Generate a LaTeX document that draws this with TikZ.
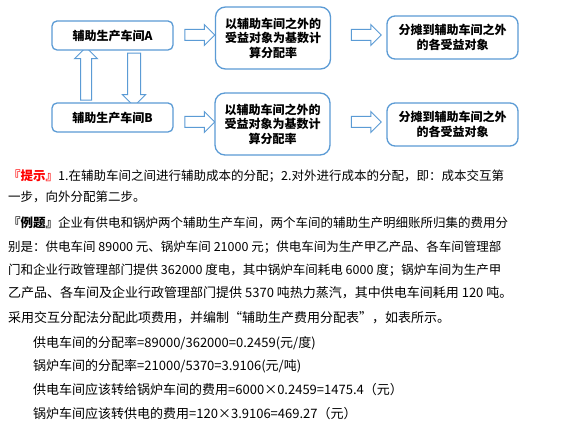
\documentclass[tikz,border=0pt]{standalone}
\usepackage{fontspec}
\newfontfamily\cjk{Noto Sans CJK SC}
\usepackage{xcolor}
\usetikzlibrary{shapes.arrows}
\definecolor{boxblue}{HTML}{5B9BD5}
\definecolor{hintred}{HTML}{FF0000}
\XeTeXlinebreaklocale "zh"
\XeTeXlinebreakskip=0pt plus 1pt minus 0.3pt
\tikzset{
  wsbox/.style={draw=boxblue,fill=white,line width=1.3pt,rounded corners=5pt,
    minimum width=121pt,minimum height=29pt,inner sep=0pt,font=\cjk\bfseries\fontsize{12}{14}\selectfont},
  ratebox/.style={wsbox,rounded corners=10pt,minimum width=115pt,minimum height=62pt,
    align=center,font=\cjk\bfseries\fontsize{12}{14.5}\selectfont},
  sharebox/.style={ratebox,rounded corners=8pt,minimum width=131pt,minimum height=43pt},
  blockarr/.style={single arrow,draw=boxblue,fill=white,line width=1pt,inner xsep=0pt,
    inner ysep=5pt,single arrow head extend=5pt,single arrow tip angle=90,minimum height=30pt},
  txtline/.style={anchor=base west,inner sep=0pt,font=\cjk\fontsize{12.5}{13}\selectfont},
  fullline/.style={txtline,text width=502pt,align=justify},
  calcline/.style={txtline,font=\cjk\fontsize{13}{13}\selectfont},
}

\begin{document}
\begin{tikzpicture}[x=1pt,y=-1pt]
  \useasboundingbox[fill=white] (0,0) rectangle (579,430);
  % block arrows
  \node[blockarr] (arA1) at (197,35) {};
  \node[blockarr] (arA2) at (363.5,35) {};
  \node[blockarr] (arB1) at (197,122) {};
  \node[blockarr] (arB2) at (363.5,122) {};
  \node[blockarr,rotate=90,minimum height=53pt,single arrow head extend=6pt] (arUp) at (86,76.5) {};
  \node[blockarr,rotate=-90,minimum height=53pt,inner ysep=6pt] (arDown) at (134,76.5) {};
  % boxes
  \node[wsbox] (wsA) at (112.5,35.5) {辅助生产车间A};
  \node[wsbox] (wsB) at (112.5,117.5) {辅助生产车间B};
  \node[ratebox] (rateA) at (273,38) {以辅助车间之外的\\受益对象为基数计\\算分配率};
  \node[ratebox] (rateB) at (272.5,124) {以辅助车间之外的\\受益对象为基数计\\算分配率};
  \node[sharebox] (shareA) at (452.5,37.5) {分摊到辅助车间之外\\的各受益对象};
  \node[sharebox] (shareB) at (452.5,124.5) {分摊到辅助车间之外\\的各受益对象};
  % text
  \node[fullline] (t1) at (8,181) {\parfillskip=0pt{\color{hintred}\bfseries『提示』}1.在辅助车间之间进行辅助成本的分配；2.对外进行成本的分配，即：成本交互第};
  \node[txtline] (t2) at (8,202) {一步，向外分配第二步。};
  \node[fullline] (t3) at (8,228) {\parfillskip=0pt{\bfseries『例题』}企业有供电和锅炉两个辅助生产车间，两个车间的辅助生产明细账所归集的费用分};
  \node[fullline] (t4) at (8,252) {\parfillskip=0pt别是：供电车间 89000 元、锅炉车间 21000 元；供电车间为生产甲乙产品、各车间管理部};
  \node[fullline] (t5) at (8,275) {\parfillskip=0pt门和企业行政管理部门提供 362000 度电，其中锅炉车间耗电 6000 度；锅炉车间为生产甲};
  \node[calcline] (t6) at (8,298) {乙产品、各车间及企业行政管理部门提供 5370 吨热力蒸汽，其中供电车间耗用 120 吨。};
  \node[calcline] (t7) at (8,323) {采用交互分配法分配此项费用，并编制“辅助生产费用分配表”，如表所示。};
  \node[calcline] (f1) at (33,348) {供电车间的分配率=89000/362000=0.2459(元/度)};
  \node[calcline] (f2) at (33,371) {锅炉车间的分配率=21000/5370=3.9106(元/吨)};
  \node[calcline] (f3) at (33,395) {供电车间应该转给锅炉车间的费用=6000×0.2459=1475.4（元）};
  \node[calcline] (f4) at (33,419) {锅炉车间应该转供电的费用=120×3.9106=469.27（元）};
\end{tikzpicture}
\end{document}
